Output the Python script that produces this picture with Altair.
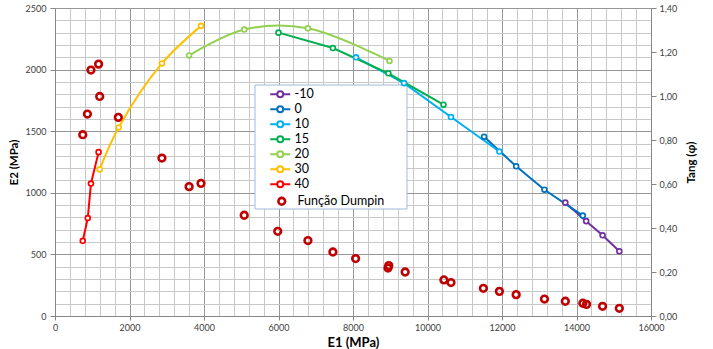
import altair as alt
import pandas as pd

# ---- data ----
series_names = ["-10", "0", "10", "15", "20", "30", "40"]
series_colors = ["#7030A0", "#0070C0", "#00B0F0", "#00B050", "#92D050", "#FFC000", "#FF0000"]

E1_m10 = [13700, 14260, 14700, 15150]
E2_m10 = [920, 770, 655, 525]
E1_0 = [11520, 12380, 13140, 14170]
E2_0 = [1455, 1215, 1025, 815]
E1_10 = [8080, 9370, 10630, 11930]
E2_10 = [2100, 1890, 1615, 1335]
E1_15 = [6000, 7460, 8950, 10430]
E2_15 = [2300, 2175, 1970, 1715]
E1_20 = [3600, 5080, 6790, 8980]
E2_20 = [2115, 2325, 2335, 2070]
E1_30 = [1200, 1710, 2870, 3920]
E2_30 = [1190, 1530, 2050, 2355]
E1_40 = [745, 880, 965, 1170]
E2_40 = [610, 795, 1075, 1330]

dump_E1 = [965, 1170, 1200, 870, 1700, 745, 2870, 3600, 3920, 5080, 5980, 6790, 7460, 8070,
           8940, 8960, 9400, 10440, 10630, 11500, 11930, 12380, 13140, 13700, 14170, 14270, 14700, 15150]
dump_tan = [1.118, 1.145, 0.998, 0.918, 0.903, 0.824, 0.718, 0.588, 0.603, 0.458, 0.385, 0.343, 0.291, 0.261,
            0.218, 0.229, 0.200, 0.164, 0.152, 0.126, 0.112, 0.097, 0.077, 0.067, 0.058, 0.053, 0.044, 0.035]
dump_label = "Função Dumpin"

x_ticks = list(range(0, 16001, 400))
y_ticks = list(range(0, 2501, 100))
tan_ticks = [0.0, 0.2, 0.4, 0.6, 0.8, 1.0, 1.2, 1.4]

# ---- tables ----
all_e1 = [E1_m10, E1_0, E1_10, E1_15, E1_20, E1_30, E1_40]
all_e2 = [E2_m10, E2_0, E2_10, E2_15, E2_20, E2_30, E2_40]
rows = []
for name, xs, ys in zip(series_names, all_e1, all_e2):
    for i, (a, b) in enumerate(zip(xs, ys)):
        rows.append({"series": name, "E1": a, "E2": b, "i": i})
lines_df = pd.DataFrame(rows)
straight_df = lines_df[~lines_df["series"].isin(["20", "30"])]
smooth_df = lines_df[lines_df["series"].isin(["20", "30"])]
dump_df = pd.DataFrame({"E1": dump_E1, "tan": dump_tan, "label": dump_label})

FONT = "Lato"
LABEL_COLOR = "#404040"
AXIS_COLOR = "#868686"
MAJOR_GRID = "#969696"
MINOR_GRID = "#c8c8c8"

x_enc = alt.X(
    "E1:Q",
    scale=alt.Scale(domain=[0, 16000], nice=False, zero=False),
    axis=alt.Axis(
        title="E1 (MPa)", values=x_ticks, titleFontSize=13,
        labelExpr="datum.value % 2000 === 0 ? format(datum.value, 'd') : ''",
        gridColor={"condition": {"test": "datum.value % 2000 === 0", "value": MAJOR_GRID}, "value": MINOR_GRID},
        tickColor={"condition": {"test": "datum.value % 2000 === 0", "value": AXIS_COLOR}, "value": "transparent"},
        tickSize=4, labelPadding=3, titlePadding=4, labelFlush=False,
    ),
)

color_scale = alt.Scale(domain=series_names, range=series_colors)
legend_path = "M-2,0H-0.6M0.6,0H2M-0.6,0A0.6,0.6,0,1,0,0.6,0A0.6,0.6,0,1,0,-0.6,0"

y_left = alt.Y(
    "E2:Q",
    scale=alt.Scale(domain=[0, 2500], nice=False),
    axis=alt.Axis(
        title="E2 (MPa)", values=y_ticks, orient="left",
        labelExpr="datum.value % 500 === 0 ? format(datum.value, 'd') : ''",
        gridColor={"condition": {"test": "datum.value % 500 === 0", "value": MAJOR_GRID}, "value": MINOR_GRID},
        tickColor={"condition": {"test": "datum.value % 500 === 0", "value": AXIS_COLOR}, "value": "transparent"},
        tickSize=5, labelPadding=4, titlePadding=6,
    ),
)

marker = alt.OverlayMarkDef(filled=False, fill="white", size=24, strokeWidth=1.7, opacity=1)

straight = alt.Chart(straight_df).mark_line(strokeWidth=2, point=marker).encode(
    x=x_enc,
    y=y_left,
    color=alt.Color(
        "series:N", scale=color_scale,
        legend=alt.Legend(
            title=None, orient="none", legendX=219, legendY=80, symbolType=legend_path,
            symbolSize=100, symbolStrokeWidth=2, symbolFillColor="white", symbolOpacity=1,
            labelFontSize=12.5, labelOffset=8, rowPadding=0, labelColor="#000000",
            labelFont=FONT, padding=0,
        ),
    ),
    order="i:Q",
)
smooth = alt.Chart(smooth_df).mark_line(strokeWidth=2, interpolate="catmull-rom", point=marker).encode(
    x=x_enc, y=y_left, color=alt.Color("series:N", scale=color_scale), order="i:Q",
)

dump = alt.Chart(dump_df).mark_point(filled=False, size=45, strokeWidth=2.6, opacity=1).encode(
    x=x_enc,
    y=alt.Y(
        "tan:Q",
        scale=alt.Scale(domain=[0, 1.4], nice=False),
        axis=alt.Axis(
            title="Tang (φ)", orient="right", values=tan_ticks, grid=False,
            labelExpr="replace(format(datum.value, '.2f'), '.', ',')",
            tickSize=5, tickColor=AXIS_COLOR, labelPadding=3, titlePadding=20, titleAngle=270,
        ),
    ),
    stroke=alt.Stroke(
        "label:N", scale=alt.Scale(domain=[dump_label], range=["#C00000"]),
        legend=alt.Legend(
            title=None, orient="none", legendX=220.5, legendY=187, symbolType="circle",
            symbolSize=45, symbolStrokeWidth=2.6, symbolOpacity=1, labelFontSize=12.5, labelOffset=9.5,
            labelColor="#000000", labelFont=FONT, padding=0,
        ),
    ),
)

box = alt.Chart(pd.DataFrame({"a": [0]})).mark_rect(
    fill="white", stroke="#9DB9DD", strokeWidth=1
).encode(x=alt.value(200), x2=alt.value(352), y=alt.value(77), y2=alt.value(201))

chart = alt.layer(
    box, alt.layer(straight, smooth), dump
).resolve_scale(y="independent").properties(
    width=596, height=308,
    autosize=alt.AutoSizeParams(type="none"),
    padding={"left": 55, "top": 8, "right": 62, "bottom": 33},
    background="white",
).configure_view(stroke=None).configure_axis(
    labelFont=FONT, labelFontSize=9, labelColor=LABEL_COLOR,
    titleFont=FONT, titleFontSize=11.5, titleFontWeight="bold", titleColor="#000000",
    domainColor=AXIS_COLOR, gridWidth=1,
)

chart.save("out.html", embed_options={"renderer": "svg", "actions": False})
